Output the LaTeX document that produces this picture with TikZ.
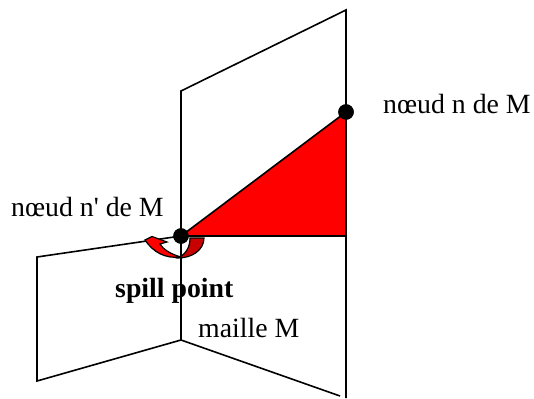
\documentclass[tikz,border=0pt]{standalone}
\usepackage{fontspec}
\setmainfont{Liberation Serif}
\newfontfamily\plainserif{Liberation Serif}
\definecolor{darkcres}{RGB}{200,0,0}
\tikzset{
  edge/.style={draw=black,line width=1.6pt,line join=miter},
  cres/.style={draw=black,line width=1.2pt},
  dotn/.style={circle,fill=black,inner sep=0pt,minimum size=15.5pt},
  lab/.style={inner sep=0pt,font=\fontsize{27.8}{30}\selectfont,text=black,anchor=base west},
}
\begin{document}
\begin{tikzpicture}[x=1pt,y=-1pt]
\useasboundingbox (0,0) rectangle (534,398);
\coordinate (tr) at (346,10);
\coordinate (tl) at (181,91);
\coordinate (ml) at (181,340);
\coordinate (bl) at (37,381);
\coordinate (lt) at (37,257);
\coordinate (rb) at (346,398);
\coordinate (rb2) at (340,396);
\coordinate (hr) at (346,236);
\node[dotn] (nn) at (346,112) {};
\node[dotn] (np) at (181,236) {};
\fill[red] (np.center) -- (nn.center) -- (hr) -- cycle;
\draw[edge] (ml) -- (tl) -- (tr) -- (rb);
\draw[edge] (np.center) -- (hr);
\draw[edge] (np.center) -- (nn.center);
\draw[edge] (np.center) -- (lt) -- (bl) -- (ml) -- (rb2);
% crescent: dark right part
\draw[cres,fill=darkcres]
  (204,238) .. controls (204,250) and (192,258) .. (178,258)
  .. controls (186,254) and (190,247) .. (190,238) -- cycle;
% crescent: bright left part with arrow head
\draw[cres,fill=red]
  (145,240) -- (152,236.5) -- (167,242) -- (160,244)
  .. controls (163,249) and (170,254) .. (181,257)
  .. controls (165,259) and (153,252) .. (145,240) -- cycle;
\node[dotn] at (np) {};
\node[dotn] at (nn) {};
\node[lab] (t1) at (383,114) {nœud n de M};
\node[lab] (t2) at (11,216) {\plainserif nœud n' de M};
\node[lab,font=\fontsize{27.8}{30}\selectfont\bfseries] (t3) at (115,297) {spill point};
\node[lab] (t4) at (198,337) {maille M};
\end{tikzpicture}
\end{document}
